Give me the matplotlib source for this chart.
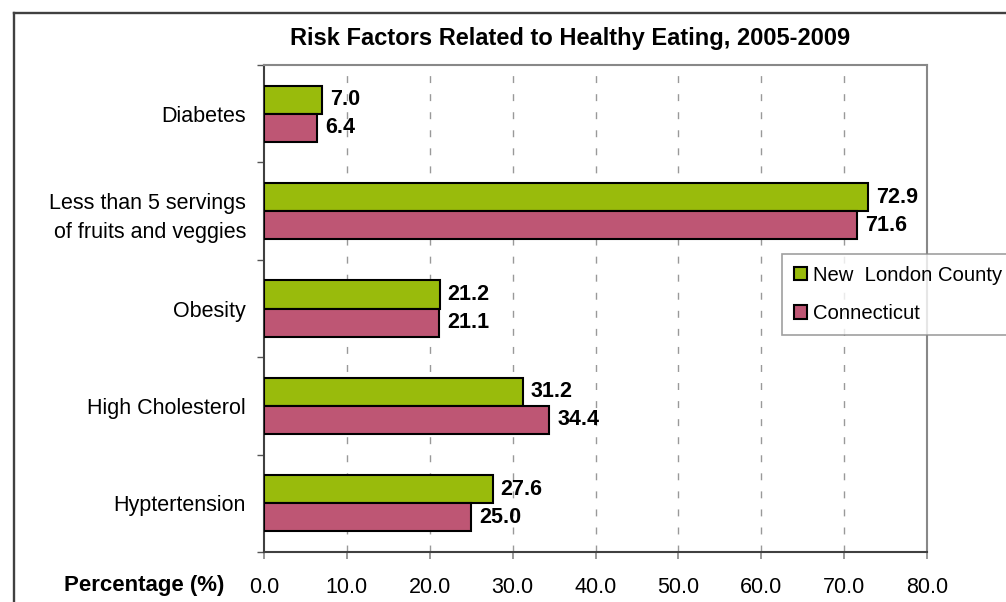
import matplotlib
matplotlib.use("Agg")
import matplotlib.pyplot as plt
from matplotlib.lines import Line2D

plt.rcParams['font.family'] = ['Liberation Sans', 'DejaVu Sans']

categories = ["Diabetes", "Less than 5 servings\nof fruits and veggies", "Obesity",
              "High Cholesterol", "Hyptertension"]
new_london = [7.0, 72.9, 21.2, 31.2, 27.6]
connecticut = [6.4, 71.6, 21.1, 34.4, 25.0]
series_names = ["New  London County", "Connecticut"]
xticks = [0, 10, 20, 30, 40, 50, 60, 70, 80]

green = "#99BB0C"
pink = "#BE5674"

fig = plt.figure(figsize=(10.06, 6.02), dpi=100)
W, H = 1006, 602
ax = fig.add_axes([264 / W, 1 - 552 / H, (927 - 264) / W, (552 - 65) / H])

ypos = list(range(len(categories)))
h = 0.2875
ax.barh([y - h / 2 for y in ypos], new_london, height=h, color=green,
        edgecolor="black", linewidth=1.5, label=series_names[0], zorder=3)
ax.barh([y + h / 2 for y in ypos], connecticut, height=h, color=pink,
        edgecolor="black", linewidth=1.5, label=series_names[1], zorder=3)

for y, v in zip(ypos, new_london):
    ax.annotate("%.1f" % v, (v, y - h / 2), xytext=(8, 0), textcoords="offset pixels",
                ha="left", va="center", fontsize=15.5, fontweight="bold")
for y, v in zip(ypos, connecticut):
    ax.annotate("%.1f" % v, (v, y + h / 2), xytext=(8, 0), textcoords="offset pixels",
                ha="left", va="center", fontsize=15.5, fontweight="bold")

ax.set_xlim(0, 80)
ax.set_ylim(len(categories) - 0.5, -0.5)
ax.set_xticks(xticks)
ax.set_xticklabels(["%.1f" % t for t in xticks], fontsize=15.5)
ax.set_yticks(ypos)
ax.set_yticklabels(categories, fontsize=15.5, linespacing=1.5)
ax.set_yticks([y - 0.5 for y in ypos] + [len(categories) - 0.5], minor=True)
ax.tick_params(axis="y", which="major", length=0, pad=13)
ax.tick_params(axis="y", which="minor", length=5, color="#555555", width=1)
ax.tick_params(axis="x", length=5, color="#888888", width=1.2, pad=13)

for x in xticks[1:-1]:
    ax.axvline(x, color="#999999", linewidth=1, linestyle=(0, (5, 8)), zorder=1)

for s in ["top", "right"]:
    ax.spines[s].set_color("#888888")
    ax.spines[s].set_linewidth(1.5)
for s in ["left", "bottom"]:
    ax.spines[s].set_color("#404040")
    ax.spines[s].set_linewidth(1.5)

fig.text(570 / W, 1 - 38 / H, "Risk Factors Related to Healthy Eating, 2005-2009",
         ha="center", va="center", fontsize=17, fontweight="bold")
fig.text(144 / W, 1 - 586 / H, "Percentage (%)", ha="center", va="center",
         fontsize=16, fontweight="bold")

leg = ax.legend(loc="upper left", bbox_to_anchor=(782 / W, 1 - 254 / H),
                bbox_transform=fig.transFigure, fontsize=14.6, frameon=True,
                fancybox=False, edgecolor="#888888", handlelength=0.67,
                handleheight=0.67, handletextpad=0.3, borderpad=0.57,
                labelspacing=0.97, borderaxespad=0)
leg.get_frame().set_linewidth(1.2)

fig.add_artist(Line2D([14 / W, 14 / W], [0, 1 - 13 / H], transform=fig.transFigure,
                      color="#404040", linewidth=1.7))
fig.add_artist(Line2D([14 / W, 1], [1 - 13 / H, 1 - 13 / H], transform=fig.transFigure,
                      color="#404040", linewidth=1.7))

fig.savefig("out.png", dpi=100)
